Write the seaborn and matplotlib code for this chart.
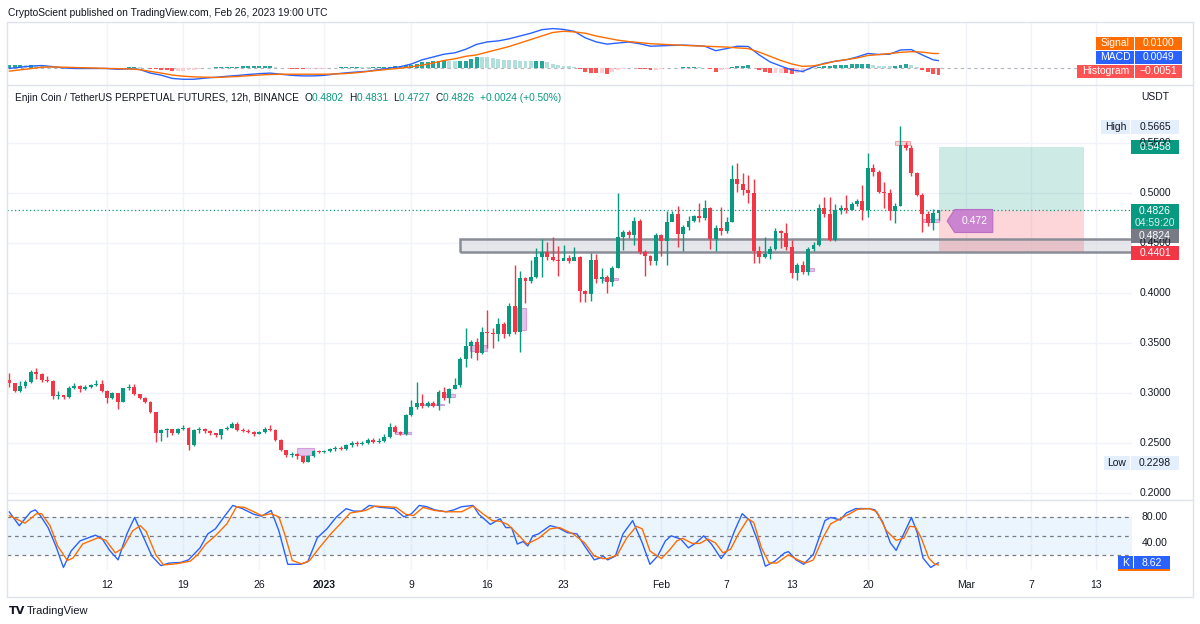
import numpy as np
import pandas as pd
import matplotlib
matplotlib.use("Agg")
import matplotlib.pyplot as plt
from matplotlib.patches import Rectangle, Polygon
from matplotlib.lines import Line2D
from matplotlib.transforms import IdentityTransform
import seaborn as sns

sns.set_theme(style="white")
plt.rcParams["font.family"] = ["Liberation Sans", "DejaVu Sans"]

# --- colours (TradingView light theme) ---
UP = "#089981"
DOWN = "#f23645"
BLUE = "#2962ff"
ORANGE = "#ff6d00"
TEXT = "#131722"
GRID = "#f0f3fa"
BORDER = "#e0e3eb"
GREY = "#787b86"

W, H = 1200, 624
START = pd.Timestamp("2022-12-03 00:00")   # first 12h candle

# --- ENJ/USDT 12h candles (open of each candle = previous close) ---
first_open = 0.3130
closes = [
    0.3097, 0.3023, 0.3070, 0.3113, 0.3213, 0.3190, 0.3130, 0.3123, 0.2970, 0.2980,
    0.2960, 0.3053, 0.3070, 0.3040, 0.3063, 0.3077, 0.3093, 0.3023, 0.2953, 0.3003,
    0.2913, 0.3047, 0.3063, 0.2990, 0.2953, 0.2913, 0.2813, 0.2597, 0.2630, 0.2637,
    0.2600, 0.2637, 0.2647, 0.2480, 0.2630, 0.2640, 0.2617, 0.2600, 0.2577, 0.2637,
    0.2653, 0.2687, 0.2630, 0.2623, 0.2607, 0.2593, 0.2607, 0.2643, 0.2633, 0.2533,
    0.2433, 0.2383, 0.2393, 0.2367, 0.2313, 0.2370, 0.2420, 0.2407, 0.2420, 0.2437,
    0.2453, 0.2443, 0.2477, 0.2503, 0.2487, 0.2503, 0.2533, 0.2513, 0.2523, 0.2563,
    0.2663, 0.2613, 0.2590, 0.2780, 0.2857, 0.2897, 0.2870, 0.2897, 0.2870, 0.3013,
    0.2947, 0.3040, 0.3080, 0.3340, 0.3470, 0.3507, 0.3403, 0.3613, 0.3597, 0.3590,
    0.3690, 0.3590, 0.3870, 0.3613, 0.4147, 0.4123, 0.4163, 0.4357, 0.4413, 0.4357,
    0.4330, 0.4323, 0.4350, 0.4317, 0.4357, 0.4023, 0.3990, 0.4327, 0.4140, 0.4163,
    0.4113, 0.4247, 0.4563, 0.4613, 0.4583, 0.4723, 0.4413, 0.4367, 0.4317, 0.4580,
    0.4523, 0.4713, 0.4790, 0.4590, 0.4657, 0.4723, 0.4770, 0.4747, 0.4847, 0.4537,
    0.4647, 0.4623, 0.4713, 0.5137, 0.5087, 0.5030, 0.5003, 0.4423, 0.4363, 0.4390,
    0.4440, 0.4620, 0.4597, 0.4463, 0.4197, 0.4280, 0.4213, 0.4437, 0.4480, 0.4847,
    0.4787, 0.4530, 0.4830, 0.4853, 0.4830, 0.4887, 0.4920, 0.4830, 0.5253, 0.5207,
    0.5013, 0.5003, 0.4820, 0.4873, 0.5480, 0.5447, 0.5197, 0.4980, 0.4787, 0.4697,
    0.4802, 0.4826,
]
highs = [
    0.3197, 0.3097, 0.3120, 0.3130, 0.3230, 0.3247, 0.3197, 0.3173, 0.3130, 0.3020,
    0.2985, 0.3070, 0.3097, 0.3080, 0.3080, 0.3090, 0.3130, 0.3130, 0.3030, 0.3010,
    0.3003, 0.3053, 0.3090, 0.3090, 0.2993, 0.2963, 0.2923, 0.2813, 0.2643, 0.2650,
    0.2643, 0.2653, 0.2683, 0.2657, 0.2637, 0.2663, 0.2653, 0.2627, 0.2603, 0.2643,
    0.2667, 0.2707, 0.2707, 0.2647, 0.2637, 0.2617, 0.2623, 0.2657, 0.2677, 0.2643,
    0.2537, 0.2433, 0.2413, 0.2403, 0.2373, 0.2377, 0.2433, 0.2430, 0.2433, 0.2453,
    0.2473, 0.2473, 0.2490, 0.2523, 0.2523, 0.2523, 0.2553, 0.2547, 0.2547, 0.2587,
    0.2703, 0.2680, 0.2617, 0.2793, 0.2930, 0.3113, 0.2990, 0.2917, 0.2917, 0.3033,
    0.3063, 0.3053, 0.3147, 0.3360, 0.3647, 0.3530, 0.3547, 0.3657, 0.3830, 0.3647,
    0.3747, 0.3710, 0.3903, 0.4280, 0.4217, 0.4163, 0.4330, 0.4453, 0.4540, 0.4513,
    0.4557, 0.4470, 0.4480, 0.4380, 0.4457, 0.4370, 0.4027, 0.4400, 0.4393, 0.4250,
    0.4183, 0.4267, 0.5003, 0.4633, 0.4633, 0.4763, 0.4737, 0.4433, 0.4383, 0.4597,
    0.4593, 0.4817, 0.4817, 0.4873, 0.4683, 0.4767, 0.4783, 0.4903, 0.4933, 0.4863,
    0.4683, 0.4857, 0.4763, 0.5280, 0.5303, 0.5197, 0.5180, 0.5137, 0.4467, 0.4557,
    0.4467, 0.4647, 0.4633, 0.4700, 0.4533, 0.4303, 0.4317, 0.4463, 0.4513, 0.4887,
    0.4963, 0.4963, 0.4887, 0.4883, 0.4977, 0.4907, 0.4940, 0.5083, 0.5397, 0.5290,
    0.5233, 0.5113, 0.5043, 0.4903, 0.5665, 0.5513, 0.5483, 0.5213, 0.5003, 0.4817,
    0.4843, 0.4831,
]
lows = [
    0.3063, 0.3013, 0.3013, 0.3050, 0.3103, 0.3143, 0.3113, 0.3113, 0.2937, 0.2937,
    0.2937, 0.2947, 0.3037, 0.3013, 0.3033, 0.3053, 0.3070, 0.3013, 0.2903, 0.2937,
    0.2840, 0.2913, 0.3033, 0.2983, 0.2943, 0.2900, 0.2803, 0.2513, 0.2523, 0.2563,
    0.2583, 0.2590, 0.2627, 0.2430, 0.2467, 0.2600, 0.2597, 0.2583, 0.2557, 0.2537,
    0.2627, 0.2647, 0.2620, 0.2607, 0.2597, 0.2567, 0.2587, 0.2603, 0.2623, 0.2517,
    0.2417, 0.2363, 0.2363, 0.2340, 0.2298, 0.2313, 0.2360, 0.2397, 0.2397, 0.2413,
    0.2423, 0.2427, 0.2433, 0.2463, 0.2467, 0.2477, 0.2493, 0.2500, 0.2503, 0.2513,
    0.2553, 0.2600, 0.2577, 0.2577, 0.2767, 0.2843, 0.2853, 0.2857, 0.2857, 0.2827,
    0.2933, 0.2897, 0.3037, 0.3063, 0.3257, 0.3347, 0.3330, 0.3390, 0.3447, 0.3447,
    0.3517, 0.3553, 0.3573, 0.3590, 0.3407, 0.3900, 0.4097, 0.4147, 0.4157, 0.4327,
    0.4317, 0.4170, 0.4327, 0.4300, 0.4327, 0.3913, 0.3907, 0.3917, 0.4097, 0.4097,
    0.4003, 0.4073, 0.4247, 0.4433, 0.4550, 0.4483, 0.4393, 0.4170, 0.4280, 0.4283,
    0.4367, 0.4283, 0.4753, 0.4457, 0.4417, 0.4633, 0.4713, 0.4713, 0.4733, 0.4437,
    0.4417, 0.4577, 0.4603, 0.4713, 0.5013, 0.4983, 0.4903, 0.4297, 0.4297, 0.4347,
    0.4337, 0.4430, 0.4453, 0.4433, 0.4147, 0.4130, 0.4187, 0.4183, 0.4423, 0.4470,
    0.4763, 0.4520, 0.4520, 0.4790, 0.4803, 0.4830, 0.4867, 0.4727, 0.4763, 0.5167,
    0.4997, 0.4853, 0.4733, 0.4697, 0.4873, 0.5430, 0.5167, 0.4970, 0.4610, 0.4667,
    0.4627, 0.4727,
]

# --- MACD (12, 26, 9), values in 1e-4, one sample per day ---
macd_days = list(range(86)) + [85.5]
macd_vals = [
    -7, 2, 10, 14, 6, -3, -7, -7, -7, -7, -13, -9, -14, -40, -55, -78, -84, -84, -76, -70,
    -63, -57, -50, -44, -40, -48, -56, -60, -60, -56, -46, -38, -32, -27, -15, -5, 6, 25, 55, 75,
    95, 105, 130, 165, 183, 190, 205, 225, 245, 270, 278, 272, 258, 212, 183, 167, 175, 182, 170, 152,
    155, 158, 160, 157, 152, 120, 135, 152, 150, 90, 40, 10, -18, -28, 5, 30, 45, 55, 75, 100,
    93, 95, 125, 128, 90, 55, 49,
]
signal_vals = [
    -26, -17, -8, 2, 4, 2, 0, -2, -4, -7, -8, -10, -15, -28, -40, -54, -62, -67, -69, -71,
    -68, -64, -59, -54, -50, -48, -48, -48, -48, -48, -46, -43, -37, -28, -20, -12, -5, 5, 17, 32,
    50, 62, 80, 90, 110, 130, 150, 175, 200, 225, 250, 259, 254, 245, 225, 210, 195, 185, 178, 170,
    166, 162, 158, 155, 152, 149, 146, 140, 135, 110, 80, 50, 25, 8, 12, 26, 45, 56, 68, 86,
    92, 100, 108, 113, 110, 100, 100,
]
# histogram, one bar per candle (1e-4)
hist_vals = [
    19, 19, 19, 18, 18, 15, 12, 7, 2, -2,
    -5, -6, -7, -6, -5, -4, -3, -1, 0, -2,
    -5, -2, 1, 2, 1, -5, -12, -14, -15, -20,
    -24, -23, -22, -20, -17, -12, -7, -4, 1, 3,
    5, 6, 7, 8, 9, 9, 10, 10, 10, 5,
    0, -4, -8, -10, -12, -12, -12, -10, -8, -4,
    0, 3, 5, 5, 5, 3, 1, 3, 5, 6,
    7, 9, 11, 15, 20, 28, 38, 40, 43, 44,
    45, 44, 43, 46, 50, 62, 75, 74, 73, 66,
    60, 57, 55, 52, 50, 47, 45, 45, 45, 36,
    28, 20, 13, 8, 4, -12, -33, -38, -42, -42,
    -43, -32, -20, -10, -3, -5, -8, -13, -18, -15,
    -11, -7, -4, -1, 2, 2, 2, 1, 0, -13,
    -29, -20, -11, 1, 12, 14, 15, -3, -20, -30,
    -40, -40, -40, -41, -43, -40, -36, -15, -7, 2,
    8, 12, 15, 18, 20, 22, 25, 27, 28, 20,
    14, 10, 8, 12, 20, 22, 15, 5, -20, -35,
    -45, -51,
]

# --- Stochastic RSI (K and D), sampled at turning points, days after START ---
k_days = [
    0, 0.93, 1.99, 2.41, 2.87, 3.58, 4.29, 4.99, 5.70, 6.52,
    7.93, 8.53, 9.24, 10.02, 10.83, 11.54, 12.43, 13.13, 13.95, 14.73,
    15.79, 16.5, 17.56, 18.27, 18.97, 19.86, 20.57, 21.45, 22.51, 23.22,
    24.10, 24.81, 25.63, 26.76, 27.47, 28.35, 29.23, 30.12, 31.0, 31.71,
    32.42, 33.13, 34.19, 35.43, 36.31, 37.02, 37.73, 38.43, 39.14, 40.2,
    40.91, 41.62, 42.68, 43.21, 44.27, 45.16, 45.69, 46.22, 46.75, 47.28,
    47.71, 48.17, 48.7, 49.76, 50.47, 51.35, 52.24, 52.94, 53.83, 54.36,
    54.64, 55.06, 55.77, 56.47, 57.36, 58.24, 58.95, 59.66, 60.37, 60.9,
    61.78, 62.49, 63.2, 63.9, 64.61, 65.5, 66.03, 66.74, 67.44, 68.15,
    68.86, 69.57, 70.45, 71.34, 71.69, 72.4, 73.1, 73.99, 75.05, 75.58,
    76.47, 77.0, 77.88, 79.12, 79.65, 80.36, 81.07, 81.6, 82.3, 83.01,
    83.54, 84.07, 84.78, 85.5,
]
k_vals = [
    89, 67, 89, 92, 83, 64, 35, 1, 27, 43,
    52, 47, 28, 13, 54, 80, 46, 19, 4, 8,
    9, 13, 32, 54, 62, 83, 99, 94, 85, 82,
    91, 59, 6, 6, 10, 48, 62, 81, 94, 90,
    90, 99, 96, 94, 81, 86, 99, 97, 92, 89,
    92, 97, 99, 85, 69, 78, 64, 64, 38, 42,
    35, 51, 54, 67, 64, 56, 54, 35, 13, 16,
    19, 13, 19, 54, 75, 40, 6, 19, 43, 51,
    46, 32, 40, 51, 38, 15, 27, 59, 86, 75,
    43, 3, 11, 24, 26, 13, 6, 22, 75, 80,
    76, 87, 94, 94, 92, 73, 40, 28, 54, 80,
    56, 16, 1, 8.62,
]
d_days = [
    0, 1.46, 2.52, 2.98, 3.76, 4.46, 5.35, 5.88, 6.76, 8.18,
    8.89, 9.77, 10.48, 11.36, 12.07, 12.6, 13.49, 14.2, 15.43, 16.67,
    17.38, 18.09, 18.97, 20.03, 20.92, 21.63, 22.51, 23.22, 24.1, 24.81,
    25.34, 26.05, 26.93, 27.64, 28.53, 29.59, 30.47, 31.36, 32.77, 33.66,
    34.54, 35.6, 36.49, 37.2, 38.08, 39.14, 40.2, 41.62, 42.68, 43.57,
    44.45, 45.16, 45.87, 46.75, 47.64, 48.7, 49.76, 50.64, 51.88, 52.94,
    53.83, 54.64, 55.06, 55.94, 56.83, 57.71, 58.24, 58.95, 60.01, 60.72,
    61.43, 61.96, 62.84, 63.55, 64.26, 64.97, 65.67, 66.38, 67.09, 67.97,
    68.5, 69.21, 69.92, 70.63, 71.69, 72.57, 73.28, 73.99, 74.87, 75.58,
    76.47, 77.35, 78.06, 79.12, 79.83, 80.71, 81.6, 82.3, 82.84, 83.37,
    83.9, 84.6, 85.13, 85.5,
]
d_vals = [
    83, 71, 86, 86, 67, 35, 12, 16, 38, 48,
    44, 24, 32, 59, 67, 58, 21, 5, 7, 11,
    22, 38, 51, 70, 97, 96, 89, 83, 86, 81,
    54, 12, 6.5, 12, 32, 54, 70, 87, 91, 98,
    97, 96, 85, 83, 96, 91, 89, 89, 98, 86,
    75, 74, 69, 54, 38, 47, 62, 64, 54, 40,
    19, 15, 15, 21, 48, 66, 62, 27, 15, 28,
    43, 47, 39, 39, 46, 40, 24, 30, 54, 78,
    72, 32, 8, 8, 21, 13, 8, 13, 48, 70,
    78, 86, 93, 94, 89, 59, 44, 47, 66, 65,
    48, 16, 6.5, 5,
]

tick_dates = ["2022-12-12", "2022-12-19", "2022-12-26", "2023-01-01", "2023-01-09",
              "2023-01-16", "2023-01-23", "2023-02-01", "2023-02-07", "2023-02-13",
              "2023-02-20", "2023-03-01", "2023-03-07", "2023-03-13"]
tick_labels = ["12", "19", "26", "2023", "9", "16", "23", "Feb", "7", "13", "20", "Mar", "7", "13"]

# drawings on the chart (price levels / zones)
zone_start = "2023-01-13 11:00"
zone_lo, zone_hi = 0.4413, 0.4537
entry, target, stop = 0.4826, 0.5458, 0.4401
pos_start, pos_end = "2023-02-26 12:00", "2023-03-11 21:00"
callout_time, callout_price = "2023-02-27 07:00", 0.472
pattern_boxes = [  # (from, to, low, high) small purple pattern markers
    ("2022-12-29 12:00", "2022-12-31 00:00", 0.2383, 0.2450),
    ("2023-01-07 12:00", "2023-01-09 00:00", 0.2590, 0.2613),
    ("2023-01-10 02:00", "2023-01-12 00:00", 0.2877, 0.2895),
    ("2023-01-12 00:00", "2023-01-13 00:00", 0.2963, 0.2990),
    ("2023-01-14 10:00", "2023-01-16 00:00", 0.3420, 0.3480),
    ("2023-01-18 17:00", "2023-01-19 14:00", 0.3630, 0.3850),
    ("2023-01-26 14:00", "2023-01-28 00:00", 0.4130, 0.4150),
    ("2023-02-14 12:00", "2023-02-15 01:00", 0.4220, 0.4250),
    ("2023-02-25 02:00", "2023-02-26 12:00", 0.4713, 0.4740),
]


def days(ts):
    return (pd.Timestamp(ts) - START) / pd.Timedelta("1D")


fig = plt.figure(figsize=(W / 100, H / 100), dpi=100)
fig.patch.set_facecolor("white")


def px_axes(x0, y0, x1, y1):
    return fig.add_axes([x0 / W, 1 - y1 / H, (x1 - x0) / W, (y1 - y0) / H])


PL, PR = 7, 1132
ax_macd = px_axes(PL, 22, PR, 85)
ax_main = px_axes(PL, 85, PR, 500)
ax_stoch = px_axes(PL, 500, PR, 570)

XMIN, XMAX = -0.2, 103.3
tick_days = [days(d) for d in tick_dates]

for ax in (ax_macd, ax_main, ax_stoch):
    ax.set_facecolor("white")
    for s in ax.spines.values():
        s.set_visible(False)
    for td in tick_days:
        ax.axvline(td, color=GRID, lw=1, zorder=0)

# --- main candle panel ---
t = np.arange(len(closes)) * 0.5
c = np.array(closes)
o = np.r_[first_open, c[:-1]]
cols = np.where(c >= o, UP, DOWN)
for p in np.arange(0.20, 0.60, 0.05):
    ax_main.axhline(p, color=GRID, lw=1, zorder=0)

ax_main.add_patch(Rectangle((days(zone_start), zone_lo), 80, zone_hi - zone_lo,
                            fc="#d1d4dc", alpha=0.55, ec="none", zorder=1))
ax_main.add_patch(Rectangle((days(zone_start), zone_lo), 80, zone_hi - zone_lo,
                            fc="none", ec="#8a8d97", lw=1.8, zorder=1.5))
x0p, x1p = days(pos_start), days(pos_end)
ax_main.add_patch(Rectangle((x0p, entry), x1p - x0p, target - entry, fc=UP, alpha=0.2, ec="none", zorder=1))
ax_main.add_patch(Rectangle((x0p, stop), x1p - x0p, entry - stop, fc=DOWN, alpha=0.2, ec="none", zorder=1))
ax_main.axhline(entry, color=UP, lw=0.9, ls=(0, (1, 2)), zorder=2)

for b in pattern_boxes:
    ax_main.add_patch(Rectangle((days(b[0]), b[2]), days(b[1]) - days(b[0]), b[3] - b[2],
                                fc="#ce93d8", alpha=0.55, ec="#ba68c8", lw=0.8, zorder=2))
ax_main.add_patch(Rectangle((81.5, 0.548), 1.4, 0.004, fc="#f7a1a8", alpha=0.4, ec=DOWN, lw=0.8, zorder=2))

ax_main.vlines(t, lows, highs, colors=cols, lw=1, zorder=3)
ax_main.bar(t, np.maximum(np.abs(c - o), 0.0008), bottom=np.minimum(o, c), width=0.36,
            color=cols, linewidth=0, zorder=4)

# purple price callout
tip = days(callout_time)
cp = callout_price
ax_main.add_patch(Polygon([(tip, cp), (tip + 0.7, cp + 0.0115), (tip + 4.2, cp + 0.0115),
                           (tip + 4.2, cp - 0.0115), (tip + 0.7, cp - 0.0115)],
                          closed=True, fc="#c77dcf", ec="#b868c4", lw=0.8, alpha=0.92, zorder=5))
ax_main.text(tip + 2.5, cp, f"{cp:.3f}", color="white", fontsize=7.5, ha="center", va="center", zorder=6)

ax_main.set_ylim(0.193, 0.608)

# --- MACD panel ---
hist = np.array(hist_vals) * 1e-4
prev = np.r_[hist[0], hist[:-1]]
hcols = np.where(hist >= 0, np.where(hist >= prev, "#26a69a", "#b2dfdb"),
                 np.where(hist < prev, "#ff5252", "#ffcdd2"))
ax_macd.axhline(0, color="#b2b5be", lw=0.8, ls=(0, (3, 3)), zorder=1)
ax_macd.bar(t, hist, width=0.36, color=hcols, linewidth=0, zorder=2)
sns.lineplot(x=macd_days, y=np.array(macd_vals) * 1e-4, ax=ax_macd, color=BLUE, lw=1, zorder=3)
sns.lineplot(x=macd_days, y=np.array(signal_vals) * 1e-4, ax=ax_macd, color=ORANGE, lw=1, zorder=3)
ax_macd.set_ylim(-0.0125, 0.0325)

# --- Stoch RSI panel ---
ax_stoch.axhspan(20, 80, color="#2196f3", alpha=0.09, lw=0, zorder=0)
ax_stoch.axhline(40, color=GRID, lw=1, zorder=0)
for lvl in (80, 50, 20):
    ax_stoch.axhline(lvl, color=GREY, lw=0.9, ls=(0, (3, 3)), zorder=1)
sns.lineplot(x=k_days, y=k_vals, ax=ax_stoch, color=BLUE, lw=1, zorder=3)
sns.lineplot(x=d_days, y=d_vals, ax=ax_stoch, color=ORANGE, lw=1, zorder=3)
ax_stoch.set_ylim(-3, 107.6)

for ax in (ax_macd, ax_main, ax_stoch):
    ax.set_xlim(XMIN, XMAX)
    ax.set_xticks([])
    ax.set_yticks([])
    ax.set_xlabel("")
    ax.set_ylabel("")


# --- helpers in pixel coordinates (top-left origin) ---
def line_px(x0, y0, x1, y1, color=BORDER, lw=1):
    fig.add_artist(Line2D([x0, x1], [H - y0, H - y1], transform=IdentityTransform(), color=color, lw=lw))


def box_px(x0, y0, x1, y1, fc):
    fig.add_artist(Rectangle((x0, H - y1), x1 - x0, y1 - y0, transform=IdentityTransform(), fc=fc, ec="none"))


def text_px(x, y, s, **kw):
    kw.setdefault("va", "center")
    kw.setdefault("fontsize", 7.5)
    kw.setdefault("color", TEXT)
    return fig.text(x, H - y, s, transform=IdentityTransform(), **kw)


def ypx(ax, v):
    return H - ax.transData.transform((0, v))[1]


def xpx(ax, d):
    return ax.transData.transform((d, 0))[0]


# frame
line_px(PL, 22, 1193, 22)
line_px(PL, 85, 1193, 85)
line_px(PL, 500, 1193, 500)
line_px(PL, 597, 1193, 597)
line_px(PL, 22, PL, 597)
line_px(1193, 22, 1193, 597)

# header & legend
text_px(8, 13, "CryptoScient published on TradingView.com, Feb 26, 2023 19:00 UTC", fontsize=7.4)
renderer = fig.canvas.get_renderer()
xx = 15
for s, col in [("Enjin Coin / TetherUS PERPETUAL FUTURES, 12h, BINANCE  ", TEXT),
               ("O", TEXT), ("0.4802  ", UP), ("H", TEXT), ("0.4831  ", UP),
               ("L", TEXT), ("0.4727  ", UP), ("C", TEXT), ("0.4826  ", UP),
               ("+0.0024 (+0.50%)", UP)]:
    tt = text_px(xx, 98, s, color=col, fontsize=7.25)
    xx += tt.get_window_extent(renderer).width

# price scale
LX = 1155
text_px(LX, 97, "USDT", ha="center")
for p in (0.55, 0.50, 0.45, 0.40, 0.35, 0.30, 0.25, 0.20):
    text_px(LX, ypx(ax_main, p), f"{p:.4f}", ha="center")

box_px(1101, 120, 1130, 134, "#e3effd")
text_px(1115.5, 127, "High", ha="center")
box_px(1131, 120, 1179, 134, "#e3effd")
text_px(LX, 127, "0.5665", ha="center")
yt = ypx(ax_main, target)
box_px(1131, yt - 7, 1179, yt + 7, UP)
text_px(LX, yt, "0.5458", ha="center", color="white")
box_px(1131, 204, 1179, 229, UP)
text_px(LX, 210.5, "0.4826", ha="center", color="white")
text_px(LX, 222.5, "04:59:20", ha="center", color="#d6f0eb")
box_px(1131, 229, 1179, 243, GREY)
text_px(LX, 236, "0.4824", ha="center", color="white")
ys = ypx(ax_main, stop)
box_px(1131, ys - 7, 1179, ys + 7, DOWN)
text_px(LX, ys, "0.4401", ha="center", color="white")
box_px(1104, 456, 1130, 470, "#e3effd")
text_px(1117, 463, "Low", ha="center")
box_px(1131, 456, 1179, 470, "#e3effd")
text_px(LX, 463, "0.2298", ha="center")

# MACD labels
for lab, val, col, y, xl in [("Signal", "0.0100", ORANGE, 43, 1096),
                             ("MACD", "0.0049", BLUE, 57, 1096),
                             ("Histogram", "\u22120.0051", "#ff5252", 71, 1077)]:
    box_px(xl, y - 6.5, 1134, y + 6.5, col)
    text_px((xl + 1134) / 2, y, lab, ha="center", color="white")
    box_px(1135, y - 6.5, 1182, y + 6.5, col)
    text_px(1158.5, y, val, ha="center", color="white")

# stoch labels
for lvl in (80, 40):
    text_px(LX, ypx(ax_stoch, lvl), f"{lvl:.2f}", ha="center")
box_px(1118, 568, 1170, 572, ORANGE)
yk = ypx(ax_stoch, 8.62)
box_px(1118, yk - 6.5, 1133, yk + 6.5, BLUE)
text_px(1125.5, yk, "K", ha="center", color="white")
box_px(1134, yk - 6.5, 1170, yk + 6.5, BLUE)
text_px(1152, yk, "8.62", ha="center", color="white")
box_px(PL + 1, 571, 1192, 596, "white")

# time axis
for td, lab in zip(tick_days, tick_labels):
    text_px(xpx(ax_main, td), 585, lab, ha="center",
            fontweight="bold" if lab == "2023" else "normal")

# footer logo
text_px(9, 611, "TV", fontsize=8, fontweight="bold", family="DejaVu Sans")
text_px(27, 611, "TradingView", fontsize=8)

fig.savefig("out.png", dpi=100)
